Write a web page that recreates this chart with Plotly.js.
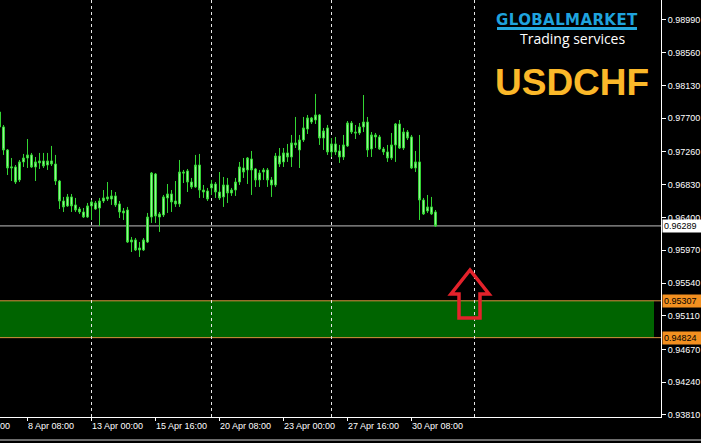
<!DOCTYPE html>
<html><head><meta charset="utf-8">
<script src="https://cdn.plot.ly/plotly-3.0.1.min.js"></script>
<style>html,body{margin:0;padding:0;background:#000;overflow:hidden}#chart{width:701px;height:443px}</style>
</head><body><div id="chart"></div>
<script>
// H4 bars; bar index 0 = 8 Apr 08:00
const firstBar = -7;
const open = [
0.97783,0.97587,0.97285,0.97049,0.97062,0.96892,0.97128,
0.97180,0.97220,0.97062,0.97115,0.97141,0.97088,0.97141,0.97101,0.96878,0.96616,
0.96551,0.96669,0.96564,0.96511,0.96472,0.96406,0.96551,0.96511,0.96524,0.96616,
0.96642,0.96642,0.96682,0.96577,0.96485,0.96498,0.96078,0.96105,0.95974,0.95974,
0.96078,0.96406,0.96970,0.96406,0.96433,0.96656,0.96708,0.96616,0.96577,0.96996,
0.97010,0.96865,0.96800,0.97088,0.96760,0.96747,0.96787,0.96839,0.96734,0.96669,
0.96826,0.96721,0.96760,0.96865,0.97049,0.97023,0.97167,0.97036,0.96892,0.96996,
0.97023,0.96892,0.96826,0.97206,0.97128,0.97246,0.97193,0.97377,0.97285,0.97416,
0.97560,0.97652,0.97678,0.97744,0.97442,0.97574,0.97259,0.97364,0.97272,0.97193,
0.97338,0.97639,0.97521,0.97508,0.97587,0.97652,0.97298,0.97482,0.97456,0.97298,
0.97259,0.97180,0.97351,0.97626,0.97311,0.97521,0.97456,0.97049,0.97128,0.96629,
0.96485,0.96538,0.96472];
const high = [
0.97836,0.97613,0.97298,0.97180,0.97088,0.97154,0.97233,
0.97429,0.97246,0.97193,0.97246,0.97246,0.97246,0.97338,0.97220,0.96892,0.96669,
0.96708,0.96708,0.96656,0.96538,0.96524,0.96590,0.96629,0.96616,0.96656,0.96760,
0.96865,0.96760,0.96734,0.96616,0.96524,0.96538,0.96144,0.96131,0.96078,0.96131,
0.96459,0.96996,0.96983,0.96472,0.96695,0.96839,0.96760,0.96878,0.97154,0.97023,
0.97036,0.96918,0.97220,0.97233,0.96826,0.96787,0.96892,0.96865,0.96996,0.96931,
0.96918,0.96787,0.96918,0.97128,0.97180,0.97193,0.97272,0.97049,0.97023,0.97049,
0.97049,0.96931,0.97246,0.97311,0.97311,0.97364,0.97482,0.97718,0.97482,0.97718,
0.97744,0.97718,0.98020,0.97757,0.97574,0.97613,0.97442,0.97456,0.97351,0.97482,
0.97665,0.97665,0.97613,0.97639,0.98006,0.97718,0.97521,0.97508,0.97482,0.97324,
0.97351,0.97508,0.97639,0.97678,0.97574,0.97547,0.97482,0.97272,0.97482,0.96656,
0.96695,0.96669,0.96498];
const low = [
0.97547,0.97220,0.96957,0.96878,0.96839,0.96865,0.97062,
0.97049,0.97049,0.96878,0.97036,0.97049,0.97023,0.97075,0.96826,0.96511,0.96472,
0.96538,0.96472,0.96472,0.96446,0.96393,0.96393,0.96367,0.96498,0.96288,0.96590,
0.96616,0.96564,0.96538,0.96393,0.96367,0.96065,0.95947,0.95960,0.95882,0.95960,
0.96065,0.96328,0.96328,0.96210,0.96406,0.96459,0.96472,0.96538,0.96538,0.96852,
0.96734,0.96774,0.96787,0.96656,0.96656,0.96616,0.96695,0.96656,0.96629,0.96538,
0.96590,0.96682,0.96682,0.96826,0.96918,0.96839,0.96695,0.96800,0.96800,0.96892,
0.96800,0.96669,0.96800,0.97062,0.97062,0.97128,0.97062,0.97311,0.97049,0.97390,
0.97495,0.97626,0.97626,0.97351,0.97285,0.97220,0.97193,0.97220,0.97115,0.97154,
0.97324,0.97495,0.97429,0.97482,0.97521,0.97193,0.97193,0.97311,0.97285,0.97220,
0.97128,0.97154,0.97128,0.97298,0.97285,0.97416,0.97036,0.96996,0.96367,0.96433,
0.96459,0.96433,0.96275];
const close = [
0.97587,0.97285,0.97049,0.97062,0.96865,0.97128,0.97180,
0.97220,0.97062,0.97128,0.97141,0.97075,0.97141,0.97101,0.96878,0.96616,0.96538,
0.96669,0.96551,0.96498,0.96472,0.96406,0.96551,0.96603,0.96590,0.96616,0.96656,
0.96669,0.96682,0.96564,0.96472,0.96459,0.96078,0.96105,0.95974,0.96000,0.96105,
0.96406,0.96983,0.96419,0.96446,0.96669,0.96708,0.96603,0.96577,0.96996,0.96983,
0.96865,0.96800,0.97088,0.96760,0.96734,0.96642,0.96839,0.96734,0.96656,0.96826,
0.96721,0.96760,0.96865,0.97062,0.96996,0.97180,0.97023,0.96892,0.96983,0.97023,
0.96892,0.96826,0.97206,0.97101,0.97246,0.97193,0.97377,0.97351,0.97416,0.97574,
0.97705,0.97705,0.97744,0.97442,0.97534,0.97259,0.97364,0.97259,0.97193,0.97351,
0.97639,0.97521,0.97508,0.97587,0.97652,0.97285,0.97482,0.97456,0.97298,0.97259,
0.97180,0.97351,0.97626,0.97311,0.97521,0.97442,0.97049,0.97128,0.96629,0.96446,
0.96538,0.96446,0.96289];

const timeTickBars = [-16, 0, 16, 32, 48, 64, 80, 96];
const timeTickLabels = ["3 Apr 16:00","8 Apr 08:00","13 Apr 00:00","15 Apr 16:00",
  "20 Apr 08:00","23 Apr 00:00","27 Apr 16:00","30 Apr 08:00"];
const priceTicks = [0.98990,0.98560,0.98130,0.97700,0.97260,0.96830,0.96400,
  0.95970,0.95540,0.95110,0.94670,0.94240,0.93810];
const separatorBars = [16, 46, 76, 111.75];
const lastPrice = 0.96289;
const zoneTop = 0.95307;
const zoneBottom = 0.94824;
const symbol = "USDCHF";

// ---- layout geometry ----
const W = 701, H = 443, M = {l:0, r:40, t:0, b:26};
const PW = W - M.l - M.r, PH = H - M.t - M.b;
const xRange = [-6.875, 158.375];
const yRange = [0.93783, 0.99252];
const xp = p => p / PW;            // pixel -> paper x
const yp = p => (PH - p) / PH;     // pixel -> paper y

const bars = open.map((_, k) => firstBar + k);
const axisFont = {family: "Liberation Sans, Arial, sans-serif", size: 9, color: "#ffffff"};

const candle = {
  type: "candlestick", x: bars, open: open, high: high, low: low, close: close,
  increasing: {line: {color: "#33d633", width: 1}, fillcolor: "#9ef29e"},
  decreasing: {line: {color: "#33d633", width: 1}, fillcolor: "#9ef29e"},
  whiskerwidth: 0, hoverinfo: "skip", showlegend: false
};

const shapes = [];
shapes.push({type: "rect", xref: "paper", yref: "y", x0: 0, x1: xp(654), y0: zoneBottom, y1: zoneTop,
  fillcolor: "#006400", line: {width: 0}, layer: "below"});
[zoneTop, zoneBottom].forEach(v => shapes.push({type: "line", xref: "paper", yref: "y", x0: 0, x1: 1, y0: v, y1: v,
  line: {color: "#d8923e", width: 1}, layer: "below"}));
shapes.push({type: "line", xref: "paper", yref: "y", x0: 0, x1: 1, y0: lastPrice, y1: lastPrice,
  line: {color: "#c0c0c0", width: 1}, layer: "below"});
separatorBars.forEach(b => shapes.push({type: "line", xref: "x", yref: "paper", x0: b, x1: b, y0: 0, y1: 1,
  line: {color: "#e6e6e6", width: 1, dash: "3px,3px"}, layer: "below"}));
// red up arrow (outline)
const arrowPts = [[470,270],[489,294],[480,294],[480,318],[459,318],[459,294],[451,294]];
shapes.push({type: "path", xref: "paper", yref: "paper",
  path: "M" + arrowPts.map(p => xp(p[0]).toFixed(5) + "," + yp(p[1]).toFixed(5)).join(" L") + " Z",
  line: {color: "#e4222b", width: 3.5}, fillcolor: "rgba(0,0,0,0)", layer: "above"});
// logo underline stripe
shapes.push({type: "rect", xref: "paper", yref: "paper", x0: xp(497), x1: xp(637), y0: yp(30), y1: yp(27),
  fillcolor: "#23a9df", line: {width: 0}, layer: "above"});
// bottom tab bar line
shapes.push({type: "line", xref: "paper", yref: "paper", x0: 0, x1: W / PW, y0: yp(440), y1: yp(440),
  line: {color: "#d8d8d8", width: 1}});

const annotations = [];
// time labels, left-aligned to their tick
timeTickBars.forEach((b, k) => {
  const inRange = b >= xRange[0];
  annotations.push({
    xref: "x", yref: "paper",
    x: inRange ? b : xRange[0],
    xshift: (inRange ? 0 : (b - xRange[0]) * PW / (xRange[1] - xRange[0])) - 2,
    y: 0, yshift: -2, xanchor: "left", yanchor: "top",
    text: timeTickLabels[k], showarrow: false, font: axisFont
  });
});
// highlighted price labels
[[lastPrice, "#ffffff"], [zoneTop, "#f39020"], [zoneBottom, "#f39020"]].forEach(([v, bg]) => {
  annotations.push({xref: "paper", yref: "y", x: 1, y: v, xanchor: "left", yanchor: "middle", xshift: 1,
    text: v.toFixed(5), showarrow: false, bgcolor: bg, borderpad: 1, width: 36, align: "left",
    font: {family: axisFont.family, size: 9, color: "#000000"}});
});
// logo
annotations.push({xref: "paper", yref: "paper", x: xp(567), y: yp(20), xanchor: "center", yanchor: "middle",
  text: '<span style="letter-spacing:0.4px">GLOBALMARKET</span>', showarrow: false,
  font: {family: "DejaVu Sans", size: 15, weight: 700, color: "#1fa3de"}});
annotations.push({xref: "paper", yref: "paper", x: xp(572), y: yp(39), xanchor: "center", yanchor: "middle",
  text: "Trading services", showarrow: false,
  font: {family: "Open Sans", size: 14, color: "#ffffff"}});
annotations.push({xref: "paper", yref: "paper", x: xp(572), y: yp(82), xanchor: "center", yanchor: "middle",
  text: symbol, showarrow: false,
  font: {family: "Liberation Sans, Arial", size: 37, weight: 700, color: "#fbb829"}});

const layout = {
  width: W, height: H, margin: M,
  paper_bgcolor: "#000000", plot_bgcolor: "#000000",
  showlegend: false,
  xaxis: {range: xRange, showgrid: false, zeroline: false, showline: true, linecolor: "#ffffff", linewidth: 1,
    tickmode: "array", tickvals: timeTickBars, ticks: "outside", ticklen: 3, tickcolor: "#ffffff",
    showticklabels: false, rangeslider: {visible: false}, fixedrange: true, automargin: false},
  yaxis: {range: yRange, side: "right", showgrid: false, zeroline: false, showline: true, linecolor: "#ffffff",
    linewidth: 1, tickmode: "array", tickvals: priceTicks, ticktext: priceTicks.map(v => v.toFixed(5)),
    ticks: "outside", ticklen: 4, tickcolor: "#ffffff", tickfont: axisFont, fixedrange: true, automargin: false},
  shapes: shapes, annotations: annotations
};

Plotly.newPlot("chart", [candle], layout, {staticPlot: true, displayModeBar: false});
</script>
</body></html>
